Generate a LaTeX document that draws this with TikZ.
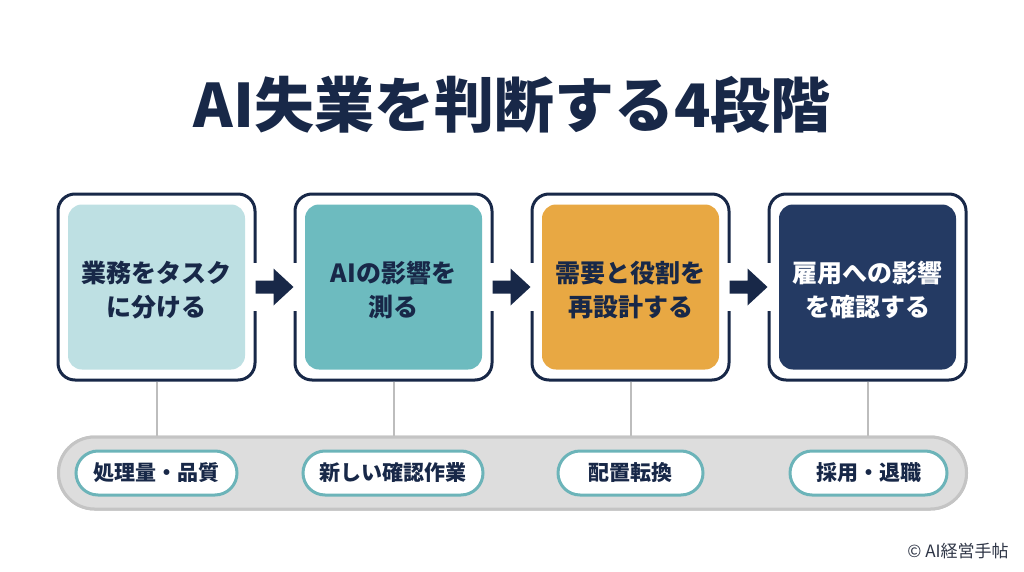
\documentclass[tikz,border=0pt]{standalone}
\usepackage{fontspec}
\setmainfont{Noto Sans CJK JP}
\usetikzlibrary{calc}
\definecolor{navy}{HTML}{182848}
\definecolor{boxnavy}{HTML}{243A63}
\definecolor{lightteal}{HTML}{BEE0E3}
\definecolor{tealmid}{HTML}{6DBBBF}
\definecolor{orangebox}{HTML}{E8A843}
\definecolor{pillteal}{HTML}{6CB4B9}
\definecolor{bargray}{HTML}{DDDDDD}
\definecolor{barline}{HTML}{C4C4C4}
\definecolor{linegray}{HTML}{BDBDBD}
\definecolor{copygray}{HTML}{2E3546}
\tikzset{
  outerbox/.style={draw=navy, line width=3pt, fill=white, rounded corners=17pt, minimum width=197pt, minimum height=186pt, inner sep=0pt},
  innerbox/.style={rounded corners=14pt, minimum width=177pt, minimum height=165pt, inner sep=0pt},
  boxtext/.style={font=\fontsize{25}{34}\selectfont\bfseries, align=center, text=navy},
  pill/.style={draw=pillteal, line width=3pt, fill=white, rounded corners=22pt, minimum height=44pt, inner sep=0pt, font=\fontsize{21}{25}\selectfont\bfseries, text=navy},
  conn/.style={draw=linegray, line width=2pt},
  stagearrow/.style={fill=navy},
}
\begin{document}
\begin{tikzpicture}[x=1pt, y=-1pt]
\useasboundingbox[fill=white] (0,0) rectangle (1024,572);

% title
\node[font=\fontsize{60}{64}\selectfont\bfseries, text=navy] (title) at (512,105) {AI失業を判断する4段階};

% bar
\node[draw=barline, line width=3pt, fill=bargray, rounded corners=36pt, minimum width=908pt, minimum height=72pt, inner sep=0pt] (bar) at (512.5,473) {};

% boxes
\node[outerbox] (b1) at (156.5,287) {};
\node[outerbox] (b2) at (393.5,287) {};
\node[outerbox] (b3) at (630.5,287) {};
\node[outerbox] (b4) at (867.5,287) {};
\node[innerbox, fill=lightteal] (i1) at (b1) {};
\node[innerbox, fill=tealmid] (i2) at (b2) {};
\node[innerbox, fill=orangebox] (i3) at (b3) {};
\node[innerbox, fill=boxnavy] (i4) at (b4) {};
\node[boxtext] (t1) at ($(b1)+(0,3)$) {業務をタスク\\に分ける};
\node[boxtext] (t2) at ($(b2)+(0,3)$) {AIの影響を\\測る};
\node[boxtext] (t3) at ($(b3)+(0,3)$) {需要と役割を\\再設計する};
\node[boxtext, text=white] (t4) at ($(b4)+(0,3)$) {雇用への影響\\を確認する};

% arrows between boxes
\foreach \a/\b in {b1/b2, b2/b3, b3/b4}{
  \fill[white] ($(\a.east)+(-4,-24)$) rectangle ($(\b.west)+(4,24)$);
  \fill[stagearrow] ($(\a.east)+(-1,-6.5)$) -- ($(\b.west)+(-20,-6.5)$) -- ($(\b.west)+(-20,-18.5)$) -- (\b.west) -- ($(\b.west)+(-20,18.5)$) -- ($(\b.west)+(-20,6.5)$) -- ($(\a.east)+(-1,6.5)$) -- cycle;
}

% connectors to bar
\foreach \n in {b1,b2,b3,b4}{
  \draw[conn] (\n.south) -- (\n.south |- bar.north);
}
\node[draw=barline, line width=3pt, fill=bargray, rounded corners=36pt, minimum width=908pt, minimum height=72pt, inner sep=0pt] (bar2) at (bar) {};

% pills
\node[pill, minimum width=161pt] (p1) at (156.5,473) {処理量・品質};
\node[pill, minimum width=180pt] (p2) at (393,473) {新しい確認作業};
\node[pill, minimum width=145pt] (p3) at (630.5,473) {配置転換};
\node[pill, minimum width=157pt] (p4) at (868.5,473) {採用・退職};

% copyright
\node[font=\fontsize{17}{20}\selectfont, text=copygray] (copy) at (958,551) {© AI経営手帖};
\end{tikzpicture}
\end{document}
